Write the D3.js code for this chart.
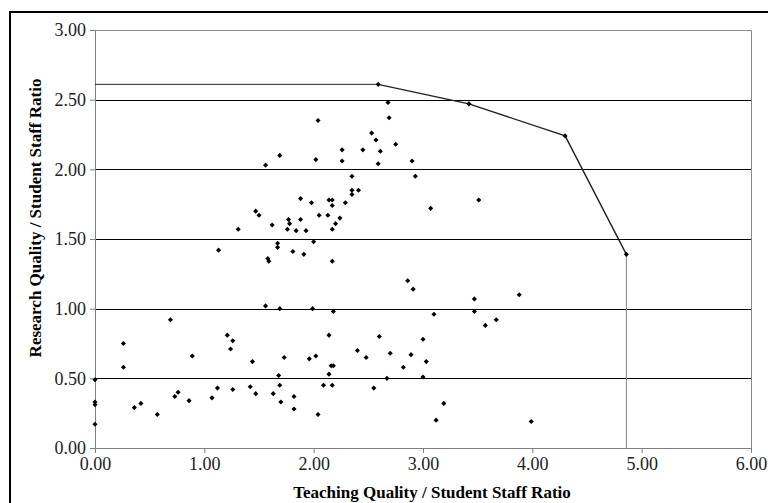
<!DOCTYPE html>
<html>
<head>
<meta charset="utf-8">
<style>
  body { margin: 0; background: #fff; }
  svg { display: block; }
</style>
</head>
<body>
<svg width="768" height="503"></svg>
<script src="https://cdn.jsdelivr.net/npm/d3@7/dist/d3.min.js"></script>
<script>

// institutions: teaching quality / SSR (x) and research quality / SSR (y)
var teachingRatio = [
  1.56, 1.69, 0.69, 0.26, 1.21, 1.26, 1.24, 0.89, 1.44, 1.73,
  0.26, 0.00, 1.68, 1.69, 1.12, 1.26, 1.42, 0.76, 0.73, 1.07,
  0.86, 1.47, 1.63, 1.70, 0.00, 0.00, 0.36, 0.42, 0.57, 0.00,
  3.47, 1.99, 2.18, 3.47, 3.10, 2.14, 2.60, 3.00, 2.40, 2.70,
  1.96, 2.02, 2.48, 2.89, 3.03, 2.18, 2.16, 2.82, 2.14, 2.09,
  2.17, 2.67, 3.00, 2.55, 1.82, 1.82, 2.04, 3.19, 3.12,
  3.88, 3.57, 3.67, 3.99,
  2.68, 2.69, 2.53, 2.57, 2.75, 2.26, 2.45, 2.61, 2.26, 2.59,
  2.90, 2.35, 2.93, 2.35, 2.35, 2.41, 2.17, 2.17, 2.14, 2.29,
  3.07, 3.51, 2.24, 2.20, 2.17, 2.17, 2.86, 2.91, 2.04, 1.69,
  2.02, 1.56, 1.88, 1.98, 1.47, 1.50, 1.77, 1.78, 1.88, 2.05,
  2.13, 1.31, 1.62, 1.76, 1.84, 1.93, 1.13, 1.67, 1.67, 2.00,
  1.81, 1.91, 1.58, 1.59
];
var researchRatio = [
  1.02, 1.00, 0.92, 0.75, 0.81, 0.77, 0.71, 0.66, 0.62, 0.65,
  0.58, 0.49, 0.52, 0.45, 0.43, 0.42, 0.44, 0.40, 0.37, 0.36,
  0.34, 0.39, 0.39, 0.33, 0.33, 0.31, 0.29, 0.32, 0.24, 0.17,
  1.07, 1.00, 0.98, 0.98, 0.96, 0.81, 0.80, 0.78, 0.70, 0.68,
  0.64, 0.66, 0.65, 0.67, 0.62, 0.59, 0.59, 0.58, 0.53, 0.45,
  0.45, 0.50, 0.51, 0.43, 0.37, 0.28, 0.24, 0.32, 0.20,
  1.10, 0.88, 0.92, 0.19,
  2.48, 2.37, 2.26, 2.21, 2.18, 2.14, 2.14, 2.13, 2.06, 2.04,
  2.06, 1.95, 1.95, 1.85, 1.82, 1.85, 1.78, 1.74, 1.78, 1.76,
  1.72, 1.78, 1.65, 1.61, 1.57, 1.34, 1.20, 1.14, 2.35, 2.10,
  2.07, 2.03, 1.79, 1.76, 1.70, 1.67, 1.64, 1.61, 1.64, 1.67,
  1.67, 1.57, 1.60, 1.57, 1.56, 1.56, 1.42, 1.47, 1.44, 1.48,
  1.41, 1.39, 1.36, 1.34
];

// efficient frontier
var frontierX = [2.59, 3.42, 4.30, 4.86];
var frontierY = [2.61, 2.47, 2.24, 1.39];

var xTicks = [0, 1, 2, 3, 4, 5, 6];
var yTicks = [0, 0.5, 1, 1.5, 2, 2.5, 3];

var svg = d3.select("svg"),
    margin = {top: 30, right: 17, bottom: 55, left: 95},
    width = +svg.attr("width") - margin.left - margin.right,
    height = +svg.attr("height") - margin.top - margin.bottom;

// outer frame
svg.append("rect")
    .attr("x", 10).attr("y", 12)
    .attr("width", 800).attr("height", 600)
    .attr("fill", "none")
    .attr("stroke", "#000")
    .attr("stroke-width", 2);

var g = svg.append("g").attr("transform", "translate(" + margin.left + "," + margin.top + ")");

var x = d3.scaleLinear().domain([0, 6]).range([0, width]);
var y = d3.scaleLinear().domain([0, 3]).range([height, 0]);

// gridlines
g.append("g")
  .selectAll("line")
  .data(yTicks.filter(function(d) { return d > 0 && d < 3; }))
  .enter().append("line")
    .attr("x1", 0).attr("x2", width)
    .attr("y1", function(d) { return Math.round(y(d)) + 0.5; })
    .attr("y2", function(d) { return Math.round(y(d)) + 0.5; })
    .attr("stroke", "#000");

// plot border (top and right)
g.append("path")
    .attr("d", "M0,0.5H" + (width + 0.5) + "V" + height)
    .attr("fill", "none")
    .attr("stroke", "#8a8a8a");

// axes
var xAxis = g.append("g")
    .attr("transform", "translate(0," + height + ")")
    .call(d3.axisBottom(x).tickValues(xTicks).tickSize(5).tickPadding(4)
      .tickFormat(d3.format(".2f")));

var yAxis = g.append("g")
    .call(d3.axisLeft(y).tickValues(yTicks).tickSize(5).tickPadding(4)
      .tickFormat(d3.format(".2f")));

[xAxis, yAxis].forEach(function(a) {
  a.select(".domain").attr("stroke", "#808080");
  a.selectAll(".tick line").attr("stroke", "#808080");
  a.selectAll(".tick text")
    .attr("fill", "#222")
    .style("font-family", "'Liberation Serif', 'Times New Roman', serif")
    .style("font-size", "18px");
});

// frontier
var frontier = frontierX.map(function(d, i) { return [d, frontierY[i]]; });

g.append("line")
    .attr("x1", 0).attr("x2", x(frontierX[0]))
    .attr("y1", y(frontierY[0])).attr("y2", y(frontierY[0]))
    .attr("stroke", "#222");

g.append("line")
    .attr("x1", x(frontierX[3])).attr("x2", x(frontierX[3]))
    .attr("y1", y(frontierY[3])).attr("y2", height)
    .attr("stroke", "#808080");

g.append("path")
    .datum(frontier)
    .attr("fill", "none")
    .attr("stroke", "#222")
    .attr("stroke-width", 1.4)
    .attr("d", d3.line()
      .x(function(d) { return x(d[0]); })
      .y(function(d) { return y(d[1]); }));

var marker = d3.symbol().type(d3.symbolSquare).size(13);

g.append("g")
  .selectAll("path")
  .data(frontier)
  .enter().append("path")
    .attr("d", marker)
    .attr("transform", function(d) { return "translate(" + x(d[0]) + "," + y(d[1]) + ") rotate(45)"; })
    .attr("fill", "#000");

// points
g.append("g")
  .selectAll("path")
  .data(teachingRatio)
  .enter().append("path")
    .attr("d", marker)
    .attr("transform", function(d, i) { return "translate(" + x(d) + "," + y(researchRatio[i]) + ") rotate(45)"; })
    .attr("fill", "#000");

// axis titles
svg.append("text")
    .attr("x", 432).attr("y", 498)
    .attr("text-anchor", "middle")
    .style("font-family", "'Liberation Serif', 'Times New Roman', serif")
    .style("font-size", "17px")
    .style("font-weight", "bold")
    .text("Teaching Quality / Student Staff Ratio");

svg.append("text")
    .attr("transform", "translate(41,218) rotate(-90)")
    .attr("text-anchor", "middle")
    .style("font-family", "'Liberation Serif', 'Times New Roman', serif")
    .style("font-size", "17px")
    .style("font-weight", "bold")
    .text("Research Quality / Student Staff Ratio");

</script>
</body>
</html>
